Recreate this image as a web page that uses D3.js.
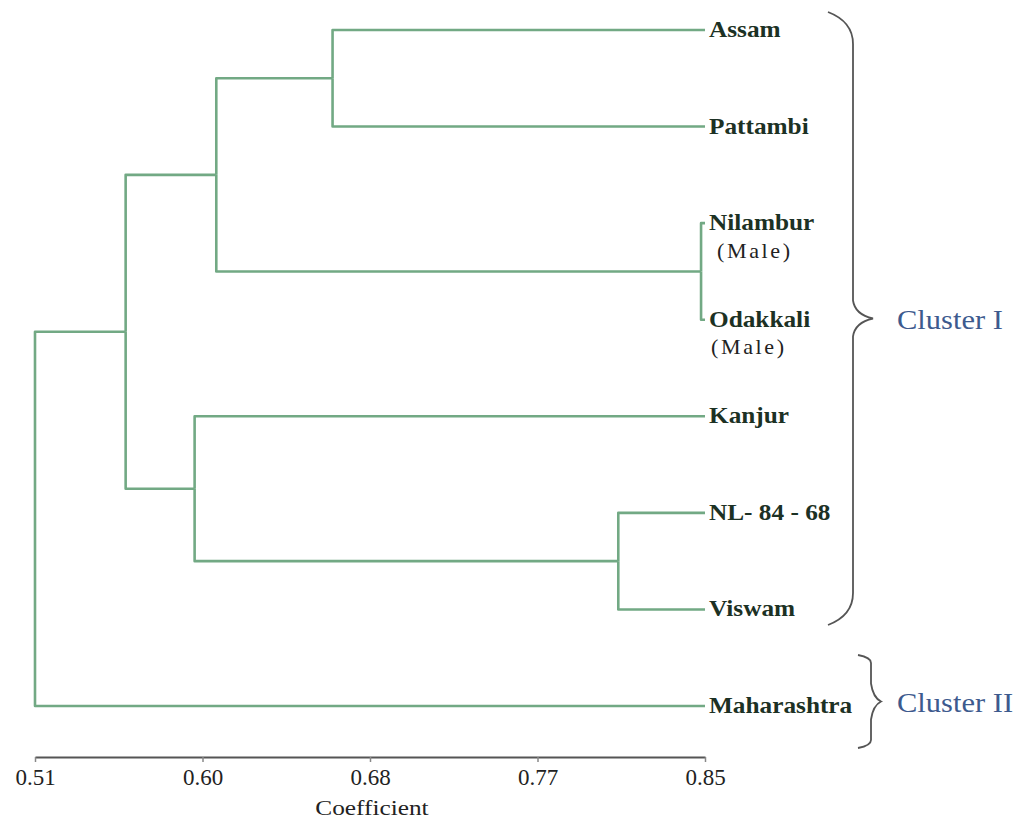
<!DOCTYPE html>
<html>
<head>
<meta charset="utf-8">
<script src="https://cdn.jsdelivr.net/npm/d3@7"></script>
<style>
  html, body { margin: 0; padding: 0; background: #fff; }
  svg { display: block; }
</style>
</head>
<body>
<svg id="chart" width="1027" height="831"></svg>
<script>
// ---- data ----
const leaves = ["Assam", "Pattambi", "Nilambur", "Odakkali", "Kanjur", "NL- 84 - 68", "Viswam", "Maharashtra"];
const leafSubLabels = ["", "", "(Male)", "(Male)", "", "", "", ""];
const leafHeight = 0.85;
// linkage: node ids 0..7 are leaves, merges get ids 8..14
const mergeLeft   = [2, 5, 0, 10, 4, 11, 13];
const mergeRight  = [3, 6, 1, 8, 9, 12, 7];
const mergeHeight = [0.848, 0.806, 0.661, 0.602, 0.591, 0.556, 0.51];
const tickValues = [0.51, 0.595, 0.68, 0.765, 0.85];
const tickLabels = ["0.51", "0.60", "0.68", "0.77", "0.85"];
const clusterNames = ["Cluster I", "Cluster II"];
const clusterMembers = [["Assam", "Viswam"], ["Maharashtra", "Maharashtra"]];

// ---- layout ----
const svg = d3.select("#chart");
const x = d3.scaleLinear().domain([0.51, 0.85]).range([35, 705]);
const y = d3.scalePoint().domain(leaves).range([30, 706]);

const lineColor = "#72a984";
const serif = "'Liberation Serif', 'Times New Roman', serif";

// node positions
const nodes = leaves.map((name, i) => ({ id: i, h: leafHeight, y: y(name) }));
mergeLeft.forEach((a, k) => {
  const b = mergeRight[k];
  nodes.push({ id: leaves.length + k, h: mergeHeight[k], a, b, y: (nodes[a].y + nodes[b].y) / 2 });
});

const g = svg.append("g");
nodes.filter(n => n.a !== undefined).forEach(n => {
  [n.a, n.b].forEach(cid => {
    const c = nodes[cid];
    const p = d3.path();
    p.moveTo(x(n.h), n.y);
    p.lineTo(x(n.h), c.y);
    p.lineTo(x(c.h), c.y);
    g.append("path").attr("d", p.toString())
      .attr("fill", "none").attr("stroke", lineColor)
      .attr("stroke-width", 2.6).attr("stroke-linejoin", "round");
  });
});

// text helper with horizontal stretch
function stretchedText(parent, tx, ty, sx) {
  return parent.append("text")
    .attr("transform", `translate(${tx},${ty}) scale(${sx},1)`);
}

// leaf labels
const lab = svg.append("g").attr("font-family", serif);
leaves.forEach((name, i) => {
  stretchedText(lab, x(leafHeight) + 4, y(name) - 1, 1.1)
    .attr("dy", "0.35em")
    .attr("font-size", 23)
    .attr("font-weight", "bold")
    .attr("fill", "#1c3124")
    .text(name);
  if (leafSubLabels[i]) {
    stretchedText(lab, x(leafHeight) + (i === 2 ? 12 : 6), y(name) + 27, 1.05)
      .attr("dy", "0.35em")
      .attr("font-size", 21)
      .attr("letter-spacing", 2.5)
      .attr("fill", "#222")
      .text(leafSubLabels[i]);
  }
});

// axis
const axis = d3.axisBottom(x)
  .tickValues(tickValues)
  .tickFormat((d, i) => tickLabels[i])
  .tickSize(5)
  .tickSizeOuter(0);
const ax = svg.append("g").attr("transform", "translate(0,757)").call(axis);
ax.select(".domain").attr("stroke", "#555").attr("stroke-width", 2);
ax.selectAll(".tick line").attr("stroke", "#888").attr("stroke-width", 1.5);
ax.selectAll(".tick text")
  .attr("font-family", serif).attr("font-size", 23).attr("fill", "#222").attr("dy", "0.85em");

stretchedText(svg, x(0.68) + 2, 815, 1.15)
  .attr("text-anchor", "middle")
  .attr("font-family", serif).attr("font-size", 22).attr("fill", "#222")
  .text("Coefficient");

// braces
function brace(top, bottom, xv, tipDx, curl, endDx) {
  const mid = (top + bottom) / 2;
  const p = d3.path();
  p.moveTo(xv - endDx, top);
  p.quadraticCurveTo(xv, top + curl * 0.3, xv, top + curl);
  p.lineTo(xv, mid - 18);
  p.quadraticCurveTo(xv + 2, mid - 4, xv + tipDx, mid);
  p.quadraticCurveTo(xv + 2, mid + 4, xv, mid + 18);
  p.lineTo(xv, bottom - curl);
  p.quadraticCurveTo(xv, bottom - curl * 0.3, xv - endDx, bottom);
  return p.toString();
}
const bg = svg.append("g").attr("fill", "none").attr("stroke", "#555").attr("stroke-width", 1.8);
bg.append("path").attr("d", brace(12, 625, 853, 20, 32, 25));
bg.append("path").attr("d", brace(655, 748, 871, 10, 8, 13));

// cluster labels
const mids = clusterMembers.map(m => (y(m[0]) + y(m[1])) / 2);
stretchedText(svg, 897, mids[0], 1.13).attr("dy", "0.35em")
  .attr("font-family", serif).attr("font-size", 27).attr("fill", "#3d5a8e").text(clusterNames[0]);
stretchedText(svg, 897, mids[1] - 3, 1.13).attr("dy", "0.35em")
  .attr("font-family", serif).attr("font-size", 27).attr("fill", "#3d5a8e").text(clusterNames[1]);
</script>
</body>
</html>
